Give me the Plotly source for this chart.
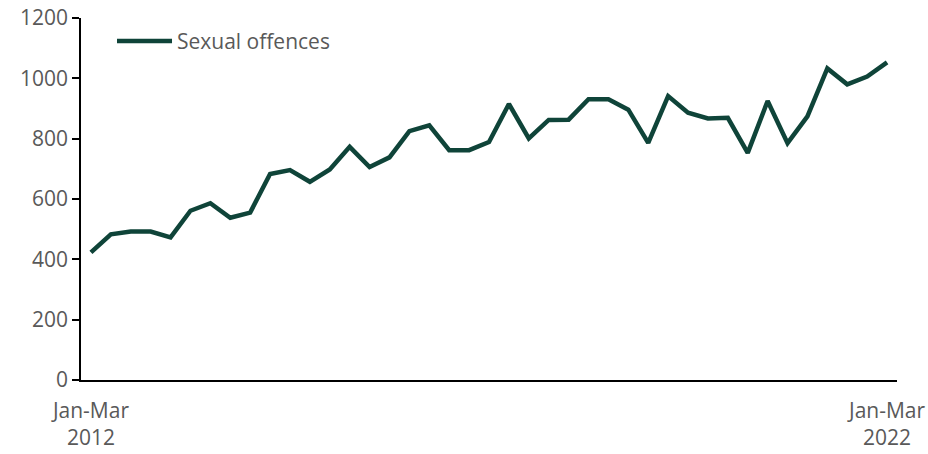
import plotly.graph_objects as go

years = list(range(2012, 2023))
quarter_names = ["Jan-Mar", "Apr-Jun", "Jul-Sep", "Oct-Dec"]
quarters = [f"{q} {y}" for y in years for q in quarter_names][:41]

sexual_offences = [423, 483, 492, 492, 473, 561, 586, 538, 555, 683,
                   696, 657, 698, 773, 706, 738, 825, 844, 762, 762,
                   789, 915, 801, 862, 863, 931, 931, 896, 786, 941,
                   886, 867, 869, 753, 925, 785, 874, 1033, 980, 1006,
                   1053]

tick_vals = ["Jan-Mar 2012", "Jan-Mar 2022"]
tick_text = ["Jan-Mar<br>2012", "Jan-Mar<br>2022"]
y_ticks = [0, 200, 400, 600, 800, 1000, 1200]

font_family = "Open Sans, Liberation Sans, sans-serif"
grey = "#595959"

fig = go.Figure()
fig.add_trace(go.Scatter(
    x=quarters, y=sexual_offences, mode="lines", name="Sexual offences",
    line=dict(color="#0F4439", width=4.5),
))

fig.update_layout(
    width=928, height=454,
    margin=dict(l=81, r=31, t=18, b=74, autoexpand=False),
    paper_bgcolor="white", plot_bgcolor="white",
    font=dict(family=font_family, size=21, color=grey),
    showlegend=True,
    legend=dict(x=0.038, y=0.992, xanchor="left", yanchor="top",
                bgcolor="rgba(0,0,0,0)", font=dict(size=21, color=grey),
                itemwidth=55),
    xaxis=dict(type="category", range=[-0.5, 40.5], tickmode="array",
               tickvals=tick_vals, ticktext=tick_text, showline=True,
               linecolor="black", linewidth=1.5, ticks="", showgrid=False,
               zeroline=False, tickangle=0, automargin=False,
               ticklabelstandoff=11),
    yaxis=dict(range=[0, 1200], tickvals=y_ticks, showline=True,
               linecolor="black", linewidth=1.5, ticks="outside", ticklen=7,
               tickcolor="black", tickwidth=1.5, showgrid=False, zeroline=False,
               automargin=False),
)

fig.write_html("out.html", config={"displayModeBar": False},
               post_script="document.body.style.margin='0';document.body.style.overflow='hidden';")
